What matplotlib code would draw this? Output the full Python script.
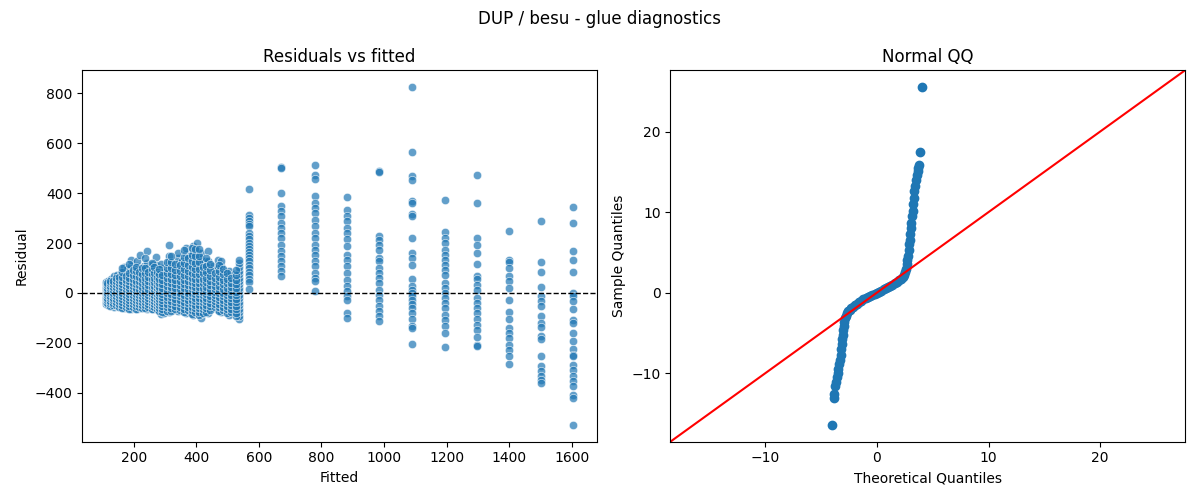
import numpy as np
import matplotlib
matplotlib.use("Agg")
import matplotlib.pyplot as plt

OUT_PATH = "out.png"

# residual cloud for small fitted values (column by column)
cloud_x = [110, 118, 128, 138, 148, 158, 170, 180, 192, 202, 212, 220, 232, 242,
           252, 262, 270, 278, 286, 296, 314, 326, 341, 354, 368, 380, 390, 402,
           416, 428, 437, 453, 468, 480, 492, 505, 520, 537]
cloud_res = [
    [-45, -35, -25, -15, -5, 5, 15, 25, 35, 45],
    [-50, -40, -28, -18, -8, 2, 12, 22, 32, 42, 50],
    [-48, -38, -26, -14, -4, 6, 18, 30, 42, 55],
    [-55, -42, -30, -18, -6, 6, 18, 30, 42, 55, 68],
    [-52, -40, -28, -16, -4, 8, 20, 32, 44, 58, 72],
    [-58, -46, -34, -22, -10, 2, 14, 26, 38, 50, 64, 80],
    [-62, -50, -38, -26, -14, -2, 10, 22, 34, 46, 58, 72, 88, 105],
    [-60, -48, -36, -24, -12, 0, 12, 24, 36, 48, 62, 78, 95],
    [-65, -52, -40, -28, -16, -4, 8, 20, 32, 44, 56, 70, 86, 110, 133],
    [-62, -50, -38, -26, -14, -2, 10, 22, 34, 48, 62, 78, 96],
    [-66, -54, -42, -30, -18, -6, 6, 18, 30, 42, 56, 72, 90, 110, 128],
    [-60, -48, -36, -24, -12, 0, 14, 28, 42, 58, 75, 95, 153],
    [-58, -45, -32, -20, -8, 4, 16, 28, 40, 54, 70, 88, 108],
    [-64, -52, -40, -28, -16, -4, 8, 20, 34, 48, 64, 82, 100, 120, 167],
    [-60, -48, -36, -24, -12, 0, 12, 24, 38, 54, 72, 92],
    [-66, -54, -42, -30, -18, -6, 6, 18, 30, 44, 60, 78, 98, 118],
    [-62, -50, -38, -26, -14, -2, 10, 22, 36, 52, 70, 90, 112, 144],
    [-70, -58, -46, -34, -22, -10, 2, 14, 26, 40, 56, 74],
    [-86, -74, -62, -50, -38, -26, -14, -2, 10, 24, 40, 58, 78, 100, 115],
    [-80, -66, -52, -38, -24, -10, 4, 18, 32, 48, 66, 86],
    [-78, -64, -50, -36, -22, -8, 6, 20, 34, 48, 64, 80, 96, 112, 130, 150, 193],
    [-70, -56, -42, -28, -14, 0, 14, 28, 44, 60, 78, 98],
    [-74, -60, -46, -32, -18, -4, 10, 24, 38, 52, 66, 82, 100, 120, 140, 160],
    [-66, -52, -38, -24, -10, 4, 18, 32, 48, 66, 86, 108, 130],
    [-82, -68, -54, -40, -26, -12, 2, 16, 30, 44, 58, 74, 92, 112, 134, 156, 180],
    [-75, -60, -45, -30, -15, 0, 15, 30, 45, 62, 80, 100, 124, 150],
    [-88, -74, -60, -46, -32, -18, -4, 10, 24, 38, 52, 66, 82, 100, 120, 142, 166, 187],
    [-80, -66, -52, -38, -24, -10, 4, 18, 32, 48, 66, 86, 110, 140, 170, 200],
    [-100, -86, -72, -58, -44, -30, -16, -2, 12, 26, 40, 56, 74, 94, 116, 138, 160],
    [-70, -56, -42, -28, -14, 0, 14, 28, 44, 62, 82, 104, 128],
    [-82, -68, -54, -40, -26, -12, 2, 16, 30, 46, 64, 84, 106, 130, 167],
    [-62, -50, -38, -26, -14, -2, 10, 22, 36, 52, 70, 90, 108],
    [-70, -56, -42, -28, -14, 0, 16, 34, 54, 76, 100, 133],
    [-76, -62, -48, -34, -20, -6, 8, 22, 36, 52, 70, 90, 110, 127],
    [-65, -50, -35, -20, -5, 10, 26, 44, 64, 84],
    [-88, -74, -60, -46, -32, -18, -4, 10, 24, 38, 54, 70, 87],
    [-70, -55, -40, -25, -10, 5, 20, 38, 56, 76],
    [-105, -92, -78, -64, -50, -36, -22, -8, 6, 20, 34, 48, 62, 76, 90, 104, 120, 133],
]

# in-between points of the same cloud (the overlapping stacks)
cloud2_x = [114, 123, 133, 143, 153, 164, 175, 186, 197, 207, 216, 226, 237, 247,
            257, 266, 274, 282, 291, 305, 320, 333, 347, 361, 374, 385, 396, 409,
            422, 432, 445, 460, 474, 486, 498, 512, 528]
cloud2_res = [
    [-40, -30, -20, -10, 0, 10, 20, 30, 40],
    [-52, -42, -32, -22, -12, -2, 8, 18, 28, 38, 48],
    [-50, -40, -30, -20, -10, 0, 10, 22, 34, 46],
    [-48, -36, -24, -12, 0, 12, 24, 36, 50, 62],
    [-56, -44, -32, -20, -8, 4, 16, 28, 40, 52, 66],
    [-60, -48, -36, -24, -12, 0, 12, 24, 36, 50, 66, 84, 100],
    [-56, -44, -32, -20, -8, 4, 16, 28, 40, 54, 70],
    [-64, -52, -40, -28, -16, -4, 8, 20, 32, 46, 62, 80, 118],
    [-58, -46, -34, -22, -10, 2, 14, 26, 40, 56, 74, 92],
    [-64, -52, -40, -28, -16, -4, 8, 20, 34, 50, 68, 88, 106],
    [-56, -44, -32, -20, -8, 4, 16, 30, 46, 64, 84],
    [-62, -50, -38, -26, -14, -2, 10, 24, 40, 58, 78, 100],
    [-60, -48, -36, -24, -12, 0, 12, 26, 42, 60, 80, 102, 140],
    [-56, -44, -32, -20, -8, 4, 16, 30, 46, 64, 84],
    [-64, -52, -40, -28, -16, -4, 8, 22, 38, 56, 76, 98, 120],
    [-58, -46, -34, -22, -10, 2, 14, 28, 44, 62, 82, 104],
    [-66, -54, -42, -30, -18, -6, 6, 18, 32, 48, 66, 86],
    [-74, -62, -50, -38, -26, -14, -2, 10, 24, 40, 58, 78, 98],
    [-78, -66, -54, -42, -30, -18, -6, 6, 20, 36, 54, 74],
    [-72, -58, -44, -30, -16, -2, 12, 26, 42, 60, 80, 102, 126],
    [-74, -60, -46, -32, -18, -4, 10, 24, 40, 58, 78, 100, 124, 148],
    [-66, -52, -38, -24, -10, 4, 18, 34, 52, 72, 94, 118],
    [-70, -56, -42, -28, -14, 0, 14, 30, 48, 68, 90, 114],
    [-78, -64, -50, -36, -22, -8, 6, 20, 36, 54, 74, 96, 120, 146, 172],
    [-70, -56, -42, -28, -14, 0, 14, 30, 48, 68, 90, 114, 140],
    [-84, -70, -56, -42, -28, -14, 0, 14, 28, 44, 62, 82, 104, 128, 154, 180],
    [-76, -62, -48, -34, -20, -6, 8, 22, 38, 56, 76, 98, 122, 150, 178],
    [-90, -76, -62, -48, -34, -20, -6, 8, 22, 38, 56, 76, 98, 124, 150, 176],
    [-80, -66, -52, -38, -24, -10, 4, 20, 38, 58, 80, 106],
    [-76, -62, -48, -34, -20, -6, 8, 24, 42, 62, 84, 110, 140],
    [-68, -54, -40, -26, -12, 2, 16, 32, 50, 70, 92, 118],
    [-58, -46, -34, -22, -10, 2, 14, 28, 44, 62, 82],
    [-72, -58, -44, -30, -16, -2, 12, 28, 46, 66, 88, 112],
    [-70, -56, -42, -28, -14, 0, 16, 34, 54, 76, 98],
    [-80, -66, -52, -38, -24, -10, 4, 20, 38, 58, 80],
    [-78, -64, -50, -36, -22, -8, 6, 22, 40, 60],
    [-94, -80, -66, -52, -38, -24, -10, 4, 18, 34, 52, 72, 94],
]

# discrete fitted levels above ~550
col_x = [569, 672, 778, 880, 985, 1088, 1194, 1296, 1398, 1503, 1605]
res_569 = [416, 313, 300, 288, 276, 267, 240, 228, 215, 202, 190, 178, 165, 152,
           140, 127, 114, 100, 86, 72, 58, 44, 16]
res_672 = [504, 500, 400, 347, 327, 307, 280, 260, 240, 220, 193, 167, 147, 127,
           107, 87, 67]
res_778 = [513, 473, 457, 389, 360, 340, 320, 293, 267, 240, 220, 193, 173, 153,
           127, 107, 80, 60, 47, 9]
res_880 = [384, 333, 307, 287, 260, 240, 216, 187, 153, 133, 107, 80, 53, 27, 7,
           -13, -29, -80, -100]
res_985 = [490, 485, 227, 213, 193, 173, 140, 127, 100, 80, 60, 40, 13, -7, -27,
           -53, -73, -93, -113]
res_1088 = [824, 564, 469, 451, 367, 360, 316, 307, 220, 160, 140, 113, 56, 27, 13,
            0, -13, -27, -43, -60, -80, -104, -133, -140, -204]
res_1194 = [373, 244, 220, 200, 173, 153, 133, 113, 93, 73, 40, 20, 0, -20, -40,
            -60, -87, -107, -133, -160, -216]
res_1296 = [472, 360, 220, 193, 160, 117, 69, 56, 33, 13, -20, -40, -60, -80, -104,
            -127, -147, -176, -207, -213]
res_1398 = [248, 133, 123, 100, 67, 47, 20, -27, -77, -104, -140, -160, -180, -207,
            -227, -251, -283]
res_1503 = [288, 123, 84, 24, -13, -33, -53, -91, -120, -136, -173, -184, -253,
            -293, -313, -331, -349, -360]
res_1605 = [344, 280, 169, 133, 84, 0, -13, -33, -64, -107, -120, -160, -193, -224,
            -247, -253, -287, -307, -333, -353, -371, -407, -420, -528]
col_res = [res_569, res_672, res_778, res_880, res_985, res_1088, res_1194,
           res_1296, res_1398, res_1503, res_1605]

# normal QQ curve, points read along the plotted band
qq_theo = [-4.0, -3.87, -3.83, -3.75, -3.68, -3.6, -3.52, -3.45, -3.38, -3.3,
           -3.25, -3.2, -3.15, -3.1, -3.05, -3.0, -2.95, -2.9, -2.85, -2.8,
           -2.7, -2.6, -2.45, -2.3, -2.15, -2.0, -1.8, -1.6, -1.4, -1.2, -1.0,
           -0.8, -0.6, -0.4, -0.2, 0.0, 0.2, 0.4, 0.6, 0.8, 1.0, 1.2, 1.4, 1.6,
           1.8, 2.0, 2.15, 2.3, 2.42, 2.52, 2.6, 2.66, 2.72, 2.78, 2.84, 2.9,
           2.95, 3.0, 3.05, 3.1, 3.15, 3.2, 3.25, 3.3, 3.36, 3.42, 3.5, 3.58,
           3.66, 3.72, 3.77, 3.9, 4.05]
qq_samp = [-16.4, -13.1, -12.6, -11.6, -11.1, -10.5, -10.0, -9.5, -8.9, -8.3,
           -7.7, -7.0, -6.4, -5.8, -5.2, -4.6, -4.1, -3.6, -3.2, -2.9,
           -2.55, -2.3, -2.1, -1.9, -1.72, -1.55, -1.35, -1.15, -0.98, -0.82,
           -0.68, -0.54, -0.4, -0.26, -0.13, 0.0, 0.13, 0.26, 0.4, 0.54, 0.68,
           0.82, 0.98, 1.15, 1.35, 1.55, 1.72, 1.95, 2.25, 2.6, 3.0, 3.5, 4.0,
           4.6, 5.3, 6.0, 6.6, 7.3, 8.0, 8.7, 9.5, 10.2, 11.0, 11.8, 12.6, 13.3,
           14.0, 14.6, 15.1, 15.5, 15.9, 17.4, 25.5]

# flatten the scatter points
fit_pts = []
res_pts = []
for x, ys in zip(cloud_x + cloud2_x + col_x, cloud_res + cloud2_res + col_res):
    fit_pts += [x] * len(ys)
    res_pts += ys

fig, axs = plt.subplots(1, 2, figsize=(12, 5))
fig.suptitle("DUP / besu - glue diagnostics")

# 1. residuals vs fitted
ax = axs[0]
ax.scatter(fit_pts, res_pts, s=36, color="#1f77b4", alpha=0.7,
           edgecolors="white", linewidths=0.5)
ax.axhline(0, color="black", linestyle="--", linewidth=1)
ax.set_title("Residuals vs fitted")
ax.set_xlabel("Fitted")
ax.set_ylabel("Residual")

# 2. normal QQ with 45 degree line
ax = axs[1]
ax.plot(qq_theo, qq_samp, "o", color="#1f77b4", markersize=6)
ax.margins(0.05)
lo = min(ax.get_xlim()[0], ax.get_ylim()[0])
hi = max(ax.get_xlim()[1], ax.get_ylim()[1])
ax.plot([lo, hi], [lo, hi], "r-")
ax.set_xlim(lo, hi)
ax.set_ylim(lo, hi)
ax.set_title("Normal QQ")
ax.set_xlabel("Theoretical Quantiles")
ax.set_ylabel("Sample Quantiles")

plt.tight_layout()
plt.savefig(OUT_PATH, dpi=100)
plt.close()
